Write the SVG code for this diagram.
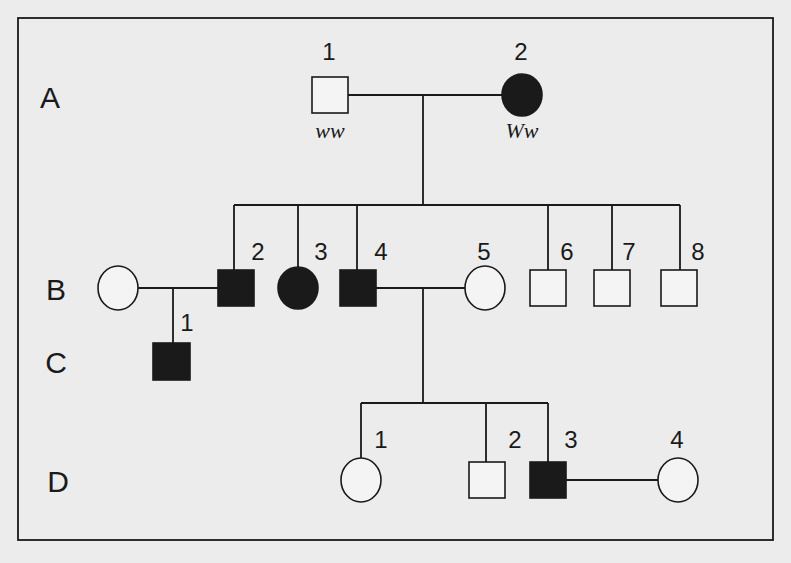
<svg xmlns="http://www.w3.org/2000/svg" width="791" height="563" viewBox="0 0 791 563">
<style>
.s{stroke:#1a1a1a;stroke-width:1.6;fill:#f4f4f4}
.f{stroke:#1a1a1a;stroke-width:1.6;fill:#1a1a1a}
.l{stroke:#1a1a1a;stroke-width:1.8;fill:none}
.n{font-family:"Liberation Sans",Arial,sans-serif;font-size:24px;fill:#1a1a1a;text-anchor:middle}
.g{font-family:"Liberation Sans",Arial,sans-serif;font-size:30px;fill:#1a1a1a;text-anchor:middle}
.it{font-family:"Liberation Serif","Times New Roman",serif;font-style:italic;font-size:22px;fill:#1a1a1a;text-anchor:middle}
</style>
<rect width="791" height="563" fill="#ececec"/>
<rect x="18" y="18" width="755" height="522" fill="#ececec" stroke="#1a1a1a" stroke-width="1.8"/>
<g id="gen-labels">
<text class="g" x="50" y="108">A</text>
<text class="g" x="56" y="300">B</text>
<text class="g" x="56" y="373">C</text>
<text class="g" x="58" y="492">D</text>
</g>
<g id="connectors">
<path class="l" d="M348 95H502M423 95V205M234 205H680M234 205V270M298 205V268M357 205V270M548 205V270M612 205V270M680 205V270"/>
<path class="l" d="M138 288H218M173 288V343"/>
<path class="l" d="M376 288H465M423 288V403M361 403H548M361 403V458M486 403V462M548 403V462M566 480H658"/>
</g>
<g id="A1"><rect class="s" x="312" y="77" width="36" height="36"/><text class="n" x="329" y="60">1</text><text class="it" x="330" y="138">ww</text></g>
<g id="A2"><ellipse class="f" cx="522" cy="95" rx="20" ry="21"/><text class="n" x="521" y="60">2</text><text class="it" x="522" y="138">Ww</text></g>
<g id="B1"><ellipse class="s" cx="118" cy="288" rx="20" ry="22"/></g>
<g id="B2"><rect class="f" x="218" y="270" width="36" height="36"/><text class="n" x="258" y="260">2</text></g>
<g id="B3"><ellipse class="f" cx="298" cy="288" rx="20" ry="21"/><text class="n" x="321" y="260">3</text></g>
<g id="B4"><rect class="f" x="340" y="270" width="36" height="36"/><text class="n" x="381" y="260">4</text></g>
<g id="B5"><ellipse class="s" cx="485" cy="288" rx="20" ry="22"/><text class="n" x="484" y="260">5</text></g>
<g id="B6"><rect class="s" x="530" y="270" width="36" height="36"/><text class="n" x="567" y="260">6</text></g>
<g id="B7"><rect class="s" x="594" y="270" width="36" height="36"/><text class="n" x="629" y="260">7</text></g>
<g id="B8"><rect class="s" x="661" y="270" width="36" height="36"/><text class="n" x="698" y="260">8</text></g>
<g id="C1"><rect class="f" x="153" y="343" width="37" height="37"/><text class="n" x="187" y="331">1</text></g>
<g id="D1"><ellipse class="s" cx="361" cy="480" rx="20" ry="22"/><text class="n" x="381" y="448">1</text></g>
<g id="D2"><rect class="s" x="469" y="462" width="36" height="36"/><text class="n" x="515" y="448">2</text></g>
<g id="D3"><rect class="f" x="530" y="462" width="36" height="36"/><text class="n" x="571" y="448">3</text></g>
<g id="D4"><ellipse class="s" cx="678" cy="480" rx="20" ry="22"/><text class="n" x="677" y="448">4</text></g>
</svg>
